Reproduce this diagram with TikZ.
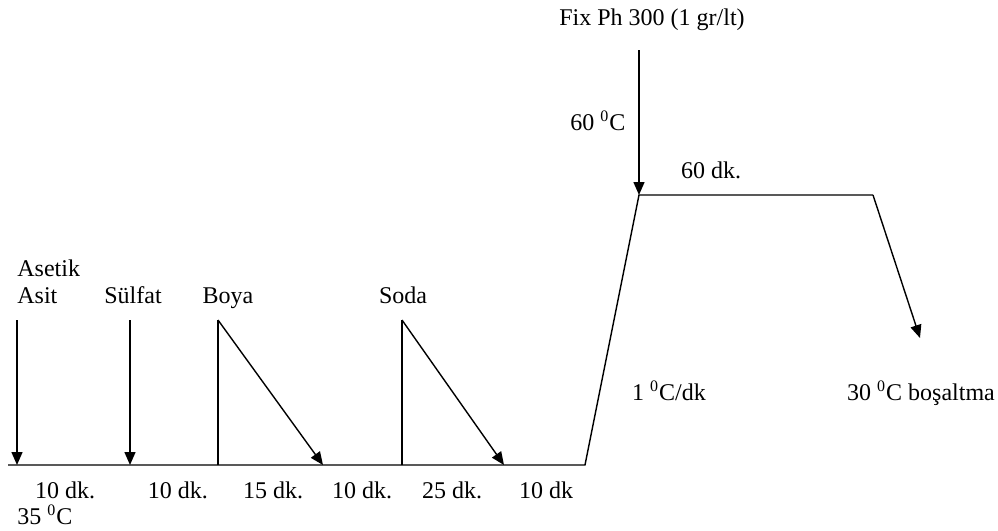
\documentclass[tikz,border=0pt]{standalone}
\usepackage{fontspec}
\setmainfont{Liberation Serif}
\usetikzlibrary{arrows.meta}
\begin{document}
\begin{tikzpicture}[x=0.5pt,y=-0.5pt,
  line/.style={line width=0.7pt},
  arr/.style={line width=0.7pt,-{Triangle[length=6.5pt,width=5.5pt]}},
  lbl/.style={inner sep=0pt,text height=8pt,text depth=0pt,font=\fontsize{12pt}{14pt}\selectfont}]
\useasboundingbox (0,0) rectangle (998,531);
% coordinates
\coordinate (A0) at (17,320); \coordinate (A1) at (17,465);
\coordinate (S0) at (130,320); \coordinate (S1) at (130,465);
\coordinate (B0) at (218,320); \coordinate (B1) at (218,465); \coordinate (B2) at (323,465);
\coordinate (D0) at (402,320); \coordinate (D1) at (402,465); \coordinate (D2) at (504,465);
\coordinate (L0) at (8,465); \coordinate (L1) at (585,465);
\coordinate (T) at (639,195); \coordinate (F0) at (639,50);
\coordinate (P1) at (873,195); \coordinate (P2) at (920,338);
% lines
\draw[line] (L0) -- (L1) -- (T) -- (P1);
\draw[arr] (P1) -- (P2);
\draw[arr] (A0) -- (A1);
\draw[arr] (S0) -- (S1);
\draw[line] (B1) -- (B0);
\draw[arr] (B0) -- (B2);
\draw[line] (D1) -- (D0);
\draw[arr] (D0) -- (D2);
\draw[arr] (F0) -- (T);
% labels
\node[lbl] (fix) at (652,17) {Fix Ph 300 (1 gr/lt)};
\node[lbl] (t60) at (598,122) {60 \textsuperscript{0}C};
\node[lbl] (d60) at (711,170) {60 dk.};
\node[lbl,anchor=west] (asetik) at (17,268) {Asetik};
\node[lbl,anchor=west] (asit) at (17,295) {Asit};
\node[lbl] (sulfat) at (133,295) {Sülfat};
\node[lbl] (boya) at (228,295) {Boya};
\node[lbl] (soda) at (403,295) {Soda};
\node[lbl] (m1) at (65,490) {10 dk.};
\node[lbl] (m2) at (178,490) {10 dk.};
\node[lbl] (m3) at (273,490) {15 dk.};
\node[lbl] (m4) at (362,490) {10 dk.};
\node[lbl] (m5) at (452,490) {25 dk.};
\node[lbl] (m6) at (546,490) {10 dk};
\node[lbl,anchor=west] (t35) at (17,516) {35 \textsuperscript{0}C};
\node[lbl] (rate) at (669,392) {1 \textsuperscript{0}C/dk};
\node[lbl] (bos) at (921,392) {30 \textsuperscript{0}C boşaltma};
\end{tikzpicture}
\end{document}
